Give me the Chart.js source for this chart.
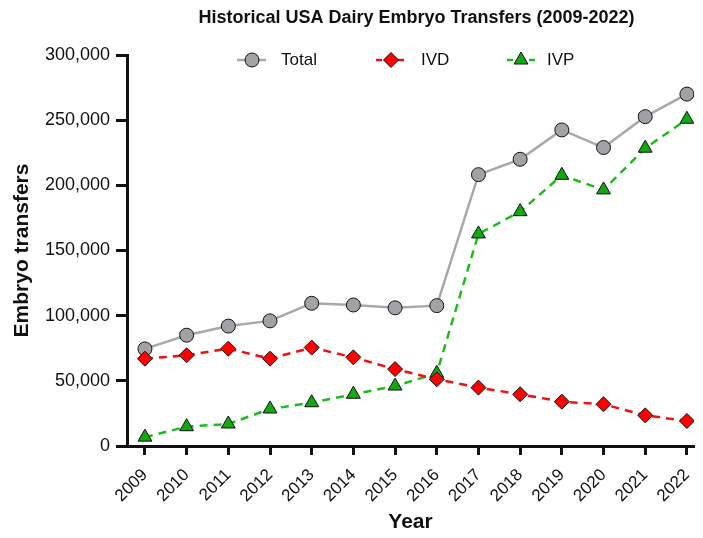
<!DOCTYPE html>
<html lang="en">
<head>
    <meta charset="UTF-8">
    <title>Historical USA Dairy Embryo Transfers</title>
    <script src="https://cdn.jsdelivr.net/npm/chart.js"></script>
    <style>
        body { margin: 0; background: #fff; }
        #wrap { width: 703px; height: 538px; }
    </style>
</head>
<body>
    <div id="wrap"><canvas id="chartEmbryo"></canvas></div>

    <script>
        // dados
        const anos = [2009, 2010, 2011, 2012, 2013, 2014, 2015, 2016, 2017, 2018, 2019, 2020, 2021, 2022];
        const totalTransfers = [74500, 85000, 92000, 96000, 109500, 108200, 106000, 107700, 208200, 220000, 242500, 229000, 252700, 270000];
        const ivdTransfers = [67000, 69600, 74700, 67000, 75500, 68000, 59000, 51200, 44800, 39700, 34000, 32000, 23500, 19200];
        const ivpTransfers = [6800, 14800, 16900, 28400, 33200, 39700, 46000, 55800, 162700, 179800, 207700, 196500, 228500, 250700];
        const yTicks = [0, 50000, 100000, 150000, 200000, 250000, 300000];

        const FONT = "'Liberation Sans', Arial, sans-serif";

        function pontos(valores) {
            return anos.map((ano, i) => ({ x: ano, y: valores[i] }));
        }

        // titulo e legenda desenhados a mao (legenda com linha + marcador)
        const tituloLegenda = {
            id: 'tituloLegenda',
            afterDraw(chart) {
                const ctx = chart.ctx;
                const area = chart.chartArea;
                ctx.save();
                ctx.fillStyle = '#111';
                ctx.font = 'bold 18px ' + FONT;
                ctx.textAlign = 'center';
                ctx.textBaseline = 'middle';
                ctx.fillText('Historical USA Dairy Embryo Transfers (2009-2022)', (area.left + area.right) / 2 + 6, 18);

                const y = 60;
                const itens = [
                    { ds: 0, x1: 237, x2: 266, mx: 252, tx: 281 },
                    { ds: 1, x1: 376, x2: 405, mx: 391, tx: 421 },
                    { ds: 2, x1: 507, x2: 536, mx: 521, tx: 547 }
                ];
                itens.forEach(it => {
                    const ds = chart.data.datasets[it.ds];
                    ctx.strokeStyle = ds.borderColor;
                    ctx.lineWidth = ds.borderWidth;
                    ctx.setLineDash(ds.borderDash ? [6, 5] : []);
                    ctx.beginPath();
                    ctx.moveTo(it.x1, y);
                    ctx.lineTo(it.x2, y);
                    ctx.stroke();
                    ctx.setLineDash([]);
                    ctx.fillStyle = ds.pointBackgroundColor;
                    ctx.strokeStyle = ds.pointBorderColor;
                    ctx.lineWidth = ds.pointBorderWidth;
                    Chart.helpers.drawPoint(ctx, { pointStyle: ds.pointStyle, radius: ds.pointRadius, borderWidth: ds.pointBorderWidth }, it.mx, y);
                    ctx.fillStyle = '#111';
                    ctx.font = '17px ' + FONT;
                    ctx.textAlign = 'left';
                    ctx.fillText(ds.label, it.tx, y);
                });
                ctx.restore();
            }
        };

        const ctxEmbryo = document.getElementById('chartEmbryo').getContext('2d');
        const chartEmbryo = new Chart(ctxEmbryo, {
            type: 'line',
            data: {
                datasets: [{
                    label: 'Total',
                    data: pontos(totalTransfers),
                    borderColor: '#a8a8a8',
                    borderWidth: 2.5,
                    pointStyle: 'circle',
                    pointRadius: 7,
                    pointBackgroundColor: '#a2a2a6',
                    pointBorderColor: '#111',
                    pointBorderWidth: 1,
                    order: 3
                }, {
                    label: 'IVD',
                    data: pontos(ivdTransfers),
                    borderColor: '#f01010',
                    borderWidth: 2.5,
                    borderDash: [8, 6],
                    pointStyle: 'rectRot',
                    pointRadius: 7.5,
                    pointBackgroundColor: '#ff0000',
                    pointBorderColor: '#111',
                    pointBorderWidth: 1,
                    order: 1
                }, {
                    label: 'IVP',
                    data: pontos(ivpTransfers),
                    borderColor: '#1cbc1c',
                    borderWidth: 2.5,
                    borderDash: [8, 6],
                    pointStyle: 'triangle',
                    pointRadius: 8,
                    pointBackgroundColor: '#12a812',
                    pointBorderColor: '#111',
                    pointBorderWidth: 1,
                    order: 2
                }]
            },
            options: {
                responsive: true,
                maintainAspectRatio: false,
                animation: false,
                layout: { padding: { top: 55, right: 6, left: 0, bottom: 0 } },
                plugins: {
                    legend: { display: false },
                    title: { display: false },
                    tooltip: { enabled: false }
                },
                scales: {
                    x: {
                        type: 'linear',
                        min: 2008.57,
                        max: 2022.17,
                        afterBuildTicks: s => { s.ticks = anos.map(a => ({ value: a })); },
                        afterFit: s => { s.height = 92; s.paddingLeft = 0; s.paddingRight = 0; },
                        grid: { drawOnChartArea: false, tickLength: 9, tickWidth: 3, tickColor: '#111' },
                        border: { color: '#111', width: 3 },
                        ticks: {
                            minRotation: 45,
                            maxRotation: 45,
                            padding: 10,
                            color: '#111',
                            font: { family: FONT, size: 17 },
                            callback: v => String(v)
                        },
                        title: {
                            display: true,
                            text: 'Year',
                            color: '#111',
                            font: { family: FONT, size: 21, weight: 'bold' },
                            padding: { top: 0, bottom: 3 }
                        }
                    },
                    y: {
                        min: 0,
                        max: 300000,
                        afterBuildTicks: s => { s.ticks = yTicks.map(v => ({ value: v })); },
                        afterFit: s => { s.width = 127; },
                        grid: { drawOnChartArea: false, tickLength: 11, tickWidth: 3, tickColor: '#111' },
                        border: { color: '#111', width: 3 },
                        ticks: {
                            padding: 6,
                            color: '#111',
                            font: { family: FONT, size: 18 },
                            callback: v => v.toLocaleString('en-US')
                        },
                        title: {
                            display: true,
                            text: 'Embryo transfers',
                            color: '#111',
                            font: { family: FONT, size: 21, weight: 'bold' },
                            padding: { top: 10, bottom: 0 }
                        }
                    }
                }
            },
            plugins: [tituloLegenda]
        });
    </script>
</body>
</html>
